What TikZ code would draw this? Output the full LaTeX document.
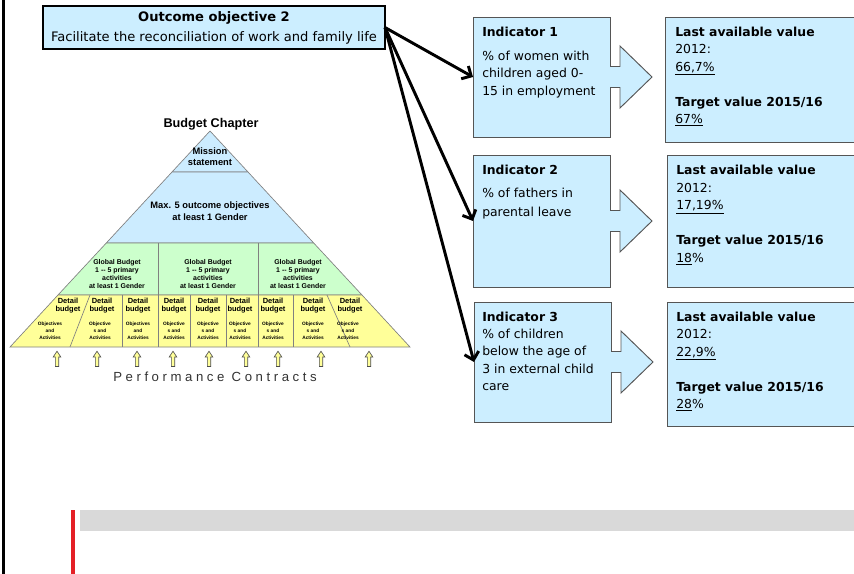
\documentclass[tikz,border=0pt]{standalone}
\usepackage{fontspec}
\setmainfont{DejaVu Sans}
\newfontfamily\arialfont{Liberation Sans}
\newfontfamily\spacedfont[LetterSpace=27]{Liberation Sans}
\usetikzlibrary{arrows.meta}
\definecolor{boxblue}{RGB}{204,238,255}
\definecolor{boxedge}{RGB}{85,85,85}
\definecolor{pyrblue}{RGB}{204,236,255}
\definecolor{pyrgreen}{RGB}{204,255,204}
\definecolor{pyryellow}{RGB}{255,255,153}
\definecolor{bargray}{RGB}{217,217,217}
\definecolor{barred}{RGB}{228,32,38}
\newcommand\objs{Objectives\\and\\Activities}
\newcommand\objsplit{Objective\\s and\\Activities}
\tikzset{
  goalbox/.style={draw, line width=1.1pt, fill=boxblue, outer sep=0pt,
    minimum width=256.5pt, minimum height=32.25pt, inner sep=0pt,
    align=center, font=\fontsize{9.8}{15}\selectfont},
  indbox/.style={draw=boxedge, line width=0.7pt, fill=boxblue, outer sep=0pt,
    anchor=north west, minimum width=102.75pt},
  valbox/.style={draw=boxedge, line width=0.7pt, fill=boxblue, outer sep=0pt,
    anchor=north west, minimum width=160pt},
  boxtext/.style={anchor=north west, inner sep=0pt, align=left,
    font=\fontsize{9.3}{13.1}\selectfont},
  link/.style={line width=2.2pt, -{Straight Barb[length=5.5pt,width=11pt]}},
  pyr/.style={draw=black!50, line width=0.5pt},
  pyrtext/.style={inner sep=0pt, align=center,
    font=\arialfont\bfseries\fontsize{7}{9}\selectfont},
  globaltext/.style={inner sep=0pt, align=center,
    font=\arialfont\bfseries\fontsize{5.2}{6}\selectfont},
  detailtext/.style={inner sep=0pt, align=center,
    font=\arialfont\bfseries\fontsize{5.6}{6}\selectfont},
  objtext/.style={inner sep=0pt, align=center,
    font=\arialfont\bfseries\fontsize{3.6}{5.25}\selectfont},
  uparrow/.pic={
    \filldraw[fill=pyryellow, draw=black!70, line width=0.45pt]
      (-1.7,7.5) -- (-1.7,-2) -- (-3.8,-2) -- (0,-7.8) -- (3.8,-2)
      -- (1.7,-2) -- (1.7,7.5) -- cycle;}
}
% arrow shape on the right of an indicator box
\newcommand\indarrow[1]{%
  \fill[boxblue] (#1.east) ++(-1,-10.5) -- ++(11,0) -- ++(0,-20.5)
    -- ++(32,31) -- ++(-32,31) -- ++(0,-20.5) -- ++(-11,0) -- cycle;
  \draw[boxedge, line width=0.7pt] (#1.east) ++(0,-10.5) -- ++(10,0)
    -- ++(0,-20.5) -- ++(32,31) -- ++(-32,31) -- ++(0,-20.5) -- ++(-10,0);}
\begin{document}
\begin{tikzpicture}[x=0.75pt,y=-0.75pt]
  \useasboundingbox (0,0) rectangle (854,574);
  \clip (0,0) rectangle (854,574);
  \draw[line width=2.2pt] (3.5,0) -- (3.5,574);

  % outcome objective
  \node[goalbox] (goal) at (214,27.5)
    {\textbf{Outcome objective 2}\\Facilitate the reconciliation of work and family life};

  % indicators and values
  \node[indbox, minimum height=90pt] (ind1) at (473,17) {};
  \node[indbox, minimum height=99pt] (ind2) at (473,155) {};
  \node[indbox, minimum height=90pt] (ind3) at (474,302) {};
  \indarrow{ind1} \indarrow{ind2} \indarrow{ind3}
  \node[valbox, minimum height=93.75pt] (val1) at (665,17) {};
  \node[valbox, minimum height=99pt] (val2) at (667,155) {};
  \node[valbox, minimum height=93pt] (val3) at (667,302) {};

  \node[boxtext] (ind1text) at ([xshift=6.75pt,yshift=-7.2pt]ind1.north west)
    {\textbf{Indicator 1}\\[4.9pt]\% of women with\\children aged 0-\\15 in employment};
  \node[boxtext] (ind2text) at ([xshift=6.75pt,yshift=-7.4pt]ind2.north west)
    {\textbf{Indicator 2}\\[4.1pt]\% of fathers in\\[1.1pt]parental leave};
  \node[boxtext] (ind3text) at ([xshift=6pt,yshift=-7pt]ind3.north west)
    {\textbf{Indicator 3}\\\% of children\\below the age of\\3 in external child\\care};
  \node[boxtext] (val1text) at ([xshift=7.5pt,yshift=-7.2pt]val1.north west)
    {\textbf{Last available value}\\2012:\\\underline{66,7\%}\\[13.1pt]%
     \textbf{Target value 2015/16}\\\underline{67\%}};
  \node[boxtext] (val2text) at ([xshift=6.75pt,yshift=-7.6pt]val2.north west)
    {\textbf{Last available value}\\2012:\\\underline{17,19\%}\\[13.1pt]%
     \textbf{Target value 2015/16}\\\underline{18}\%};
  \node[boxtext] (val3text) at ([xshift=6.75pt,yshift=-7.2pt]val3.north west)
    {\textbf{Last available value}\\2012:\\\underline{22,9\%}\\[13.1pt]%
     \textbf{Target value 2015/16}\\\underline{28}\%};

  \draw[link] (goal.east) -- (ind1.west);
  \draw[link] (goal.east) -- (ind2.west);
  \draw[link] (goal.east) -- (ind3.west);

  % budget chapter pyramid
  \node[font=\arialfont\bfseries\fontsize{9.5}{11}\selectfont] (chapter) at (211,124) {Budget Chapter};
  \filldraw[pyr, fill=pyrblue] (210,131) -- (248,172) -- (172,172) -- cycle;
  \filldraw[pyr, fill=pyrblue] (172,172) -- (248,172) -- (313.7,243) -- (106.3,243) -- cycle;
  \filldraw[pyr, fill=pyrgreen] (106.3,243) -- (313.7,243) -- (362,295) -- (58,295) -- cycle;
  \filldraw[pyr, fill=pyryellow] (58,295) -- (362,295) -- (410,347) -- (10,347) -- cycle;
  \draw[pyr] (158,243) -- (158,295) (258,243) -- (258,295);
  \draw[pyr] (90,295) -- (70,347) (327,295) -- (350,347);
  \foreach \x in {122,158,190,226,258,293}
    \draw[pyr] (\x,295) -- (\x,347);

  \node[pyrtext, font=\arialfont\bfseries\fontsize{7}{8.25}\selectfont] (mission) at (210,157) {Mission\\statement};
  \node[pyrtext] (outcomes) at (210,211) {Max. 5 outcome objectives\\at least 1 Gender};
  \foreach \x [count=\i] in {117,208,298}
    \node[globaltext] (global\i) at (\x,274) {Global Budget\\1 -- 5 primary\\activities\\at least 1 Gender};
  \foreach \xa/\xb/\t [count=\i] in {68/50/\objs, 102/100/\objsplit, 138/138/\objs,
      174/174/\objsplit, 208/208/\objsplit, 240/240/\objsplit, 273/273/\objsplit,
      313/313/\objsplit, 350/348/\objsplit} {
    \node[detailtext] (detail\i) at (\xa,306) {Detail\\budget};
    \node[objtext] (obj\i) at (\xb,331) {\t};
  }
  \foreach \x [count=\i] in {57,97,137,173,209,246,278,321,369}
    \pic (up\i) at (\x,359) {uparrow};
  \node[font=\spacedfont\fontsize{9.9}{11}\selectfont, text=black!80] (contracts) at (215,377)
    {Performance Contracts};

  % bar at the bottom
  \fill[bargray] (80,510) rectangle (854,531);
  \draw[barred, line width=3pt] (73,510) -- (73,574);
\end{tikzpicture}
\end{document}
